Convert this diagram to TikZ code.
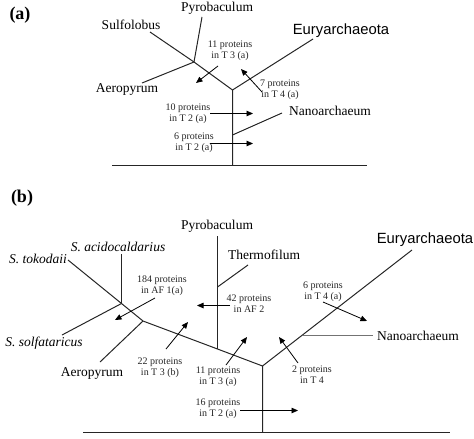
\documentclass[tikz,border=0pt]{standalone}
\usepackage{fontspec}
\setmainfont{Liberation Serif}
\newfontfamily\arialfont{Liberation Sans}
\usetikzlibrary{arrows.meta}

\begin{document}
\begin{tikzpicture}[x=1pt, y=-1pt,
  taxon/.style={font=\fontsize{13.5}{15}\selectfont, inner sep=0pt},
  sptaxon/.style={font=\itshape\fontsize{13.5}{15}\selectfont, inner sep=0pt},
  group/.style={font=\arialfont\fontsize{14.8}{16}\selectfont, inner sep=0pt},
  count/.style={font=\fontsize{10}{11}\selectfont, align=center,
                inner sep=0pt, text=black!85},
  panel/.style={font=\bfseries\fontsize{18}{20}\selectfont, inner sep=0pt},
  branch/.style={line width=1pt, black!85},
  trans/.style={-{Triangle[length=6.5pt,width=5.5pt]}, line width=0.8pt},
  ground/.style={line width=1pt, black!85}]

\useasboundingbox (0,0) rectangle (474,439);

% ---------- (a) ----------
\node[panel] (pa) at (20,15) {(a)};

\coordinate (a-root)  at (232.5,165.5);
\coordinate (a-split) at (232.5,90);
\coordinate (a-cren)  at (194,62);
\coordinate (a-nano)  at (232.5,135);
\coordinate (a-sulf)  at (150,32);
\coordinate (a-pyro)  at (202,17);
\coordinate (a-aero)  at (142,83);
\coordinate (a-eury)  at (313,39);
\coordinate (a-nanot) at (282,113);
\coordinate (a-gl)    at (112,165.5);
\coordinate (a-gr)    at (367,165.5);

\draw[ground] (a-gl) -- (a-gr);
\draw[branch] (a-root) -- (a-split) -- (a-cren) -- (a-sulf);
\draw[branch] (a-cren) -- (a-pyro);
\draw[branch] (a-cren) -- (a-aero);
\draw[branch] (a-split) -- (a-eury);
\draw[branch] (a-nano) -- (a-nanot);

\node[taxon] (a-pyrol) at (217,8)   {Pyrobaculum};
\node[taxon] (a-sulfl) at (131,25)  {Sulfolobus};
\node[group] (a-euryl) at (341,31)  {Euryarchaeota};
\node[taxon] (a-aerol) at (127,89)  {Aeropyrum};
\node[taxon] (a-nanol) at (330,111) {Nanoarchaeum};

\node[count] (a-c11) at (230,50.5) {11 proteins\\in T 3 (a)};
\node[count] (a-c7)  at (280,90)   {7 proteins\\in T 4 (a)};
\node[count] (a-c10) at (188,113.5){10 proteins\\in T 2 (a)};
\node[count] (a-c6)  at (194,143)  {6 proteins\\in T 2 (a)};

\coordinate (a-c11s) at (218,66);    \coordinate (a-c11e) at (196,83);
\coordinate (a-c7s)  at (262,92);    \coordinate (a-c7e)  at (241,69);
\coordinate (a-c10s) at (210,113.5); \coordinate (a-c10e) at (253,113.5);
\coordinate (a-c6s)  at (210,143.5); \coordinate (a-c6e)  at (253,143.5);

\draw[trans] (a-c11s) -- (a-c11e);
\draw[trans] (a-c7s) -- (a-c7e);
\draw[trans] (a-c10s) -- (a-c10e);
\draw[trans] (a-c6s) -- (a-c6e);

% ---------- (b) ----------
\node[panel] (pb) at (22,198) {(b)};

\coordinate (b-root)   at (262.5,432.5);
\coordinate (b-split)  at (262.5,366);
\coordinate (b-pyro)   at (217.5,349);
\coordinate (b-sulf)   at (143,321);
\coordinate (b-sacj)   at (121.5,303.5);
\coordinate (b-thj)    at (217.5,287);
\coordinate (b-pyrot)  at (217.5,236);
\coordinate (b-tht)    at (248,265);
\coordinate (b-sact)   at (121.5,254);
\coordinate (b-tokt)   at (68,260);
\coordinate (b-solt)   at (62,335);
\coordinate (b-aerot)  at (100,362);
\coordinate (b-euryt)  at (412,250);
\coordinate (b-nano)   at (303,335.5);
\coordinate (b-gl)     at (83,432.5);
\coordinate (b-gr)     at (450,432.5);

\draw[ground] (b-gl) -- (b-gr);
\draw[branch] (b-root) -- (b-split) -- (b-pyro) -- (b-sulf) -- (b-sacj) -- (b-tokt);
\draw[branch] (b-pyro) -- (b-thj) -- (b-pyrot);
\draw[branch] (b-thj) -- (b-tht);
\draw[branch] (b-sacj) -- (b-sact);
\draw[branch] (b-sacj) -- (b-solt);
\draw[branch] (b-sulf) -- (b-aerot);
\draw[branch] (b-split) -- (b-euryt);

\node[taxon]   (b-pyrol) at (217,226) {Pyrobaculum};
\node[taxon]   (b-thl)   at (264,255) {Thermofilum};
\node[sptaxon] (b-sacl)  at (118,247) {S. acidocaldarius};
\node[sptaxon] (b-tokl)  at (38,259)  {S. tokodaii};
\node[sptaxon] (b-soll)  at (44,343)  {S. solfataricus};
\node[taxon]   (b-aerol) at (92,373)  {Aeropyrum};
\node[group]   (b-euryl) at (425,240) {Euryarchaeota};
\node[taxon]   (b-nanol) at (418,335.5) {Nanoarchaeum};

\draw[black!55, line width=0.5pt, shorten >=4pt] (b-nano) -- (b-nanol.west);

\node[count] (b-c184) at (162,285.5) {184 proteins\\in AF 1(a)};
\node[count] (b-c42)  at (249,303.5) {42 proteins\\in AF 2};
\node[count] (b-c22)  at (160,368)   {22 proteins\\in T 3 (b)};
\node[count] (b-c11)  at (218,377)   {11 proteins\\in T 3 (a)};
\node[count] (b-c2)   at (312,374.5) {2 proteins\\in T 4};
\node[count] (b-c6)   at (323,291.5) {6 proteins\\in T 4 (a)};
\node[count] (b-c16)  at (218,408.5) {16 proteins\\in T 2 (a)};

\coordinate (b-c184s) at (155,298);   \coordinate (b-c184e) at (115,320);
\coordinate (b-c42s)  at (230,305.5); \coordinate (b-c42e)  at (197,305.5);
\coordinate (b-c22s)  at (166,349);   \coordinate (b-c22e)  at (188,322);
\coordinate (b-c11s)  at (226,365);   \coordinate (b-c11e)  at (247,337);
\coordinate (b-c2s)   at (298,363);   \coordinate (b-c2e)   at (279,337);
\coordinate (b-c6s)   at (323,302);   \coordinate (b-c6e)   at (367,321);
\coordinate (b-c16s)  at (240,410.5); \coordinate (b-c16e)  at (298,410.5);

\draw[trans] (b-c184s) -- (b-c184e);
\draw[trans] (b-c42s) -- (b-c42e);
\draw[trans] (b-c22s) -- (b-c22e);
\draw[trans] (b-c11s) -- (b-c11e);
\draw[trans] (b-c2s) -- (b-c2e);
\draw[trans] (b-c6s) -- (b-c6e);
\draw[trans] (b-c16s) -- (b-c16e);
\end{tikzpicture}
\end{document}
